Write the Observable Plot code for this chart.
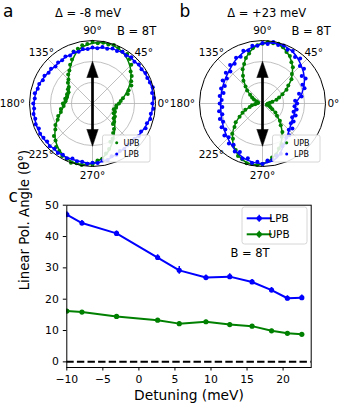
<!DOCTYPE html>
<html><head><meta charset="utf-8">
<script src="https://cdn.jsdelivr.net/npm/d3@7"></script>
<script src="https://cdn.jsdelivr.net/npm/@observablehq/plot@0.6"></script>
<style>
html,body{margin:0;padding:0;background:#fff;}
#fig{position:relative;width:339px;height:414px;overflow:hidden;font-family:"DejaVu Sans",sans-serif;color:#000;}
#fig > svg{position:absolute;}
</style></head><body><div id="fig"></div>
<script>
// ---------- Panel a / b : polar intensity (normalised radius), dots every 5 deg, fits every 15 deg ----------
const dotStep = 5, fitStep = 15;
const aUPB = [.42,.45,.49,.58,.61,.68,.71,.76,.79,.87,.92,.96,
              .95,.97,.99,.97,.98,.96,.98,.95,.94,.90,.88,.77,
              .71,.64,.60,.54,.51,.46,.45,.42,.43,.42,.44,.43,
              .47,.46,.51,.52,.58,.61,.68,.72,.80,.83,.90,.92,
              .96,.97,1.0,.98,.99,.96,.97,.91,.89,.82,.77,.67,
              .64,.57,.53,.46,.45,.41,.41,.37,.38,.35,.38,.38];
const aLPB = [.95,.98,.96,.99,.97,.96,.97,.95,.96,.94,.96,.93,
              .95,.92,.93,.90,.91,.88,.89,.87,.88,.85,.87,.84,
              .86,.84,.85,.83,.86,.85,.88,.87,.90,.90,.93,.92,
              .94,.93,.95,.94,.96,.94,.96,.95,.94,.96,.94,.96,
              .94,.96,.93,.95,.94,.96,.94,.95,.92,.93,.89,.90,
              .87,.88,.86,.88,.87,.90,.89,.93,.92,.95,.94,.97];
const bUPB = [.09,.12,.16,.23,.28,.35,.44,.50,.60,.66,.75,.80,
              .87,.90,.95,.98,.97,.98,.95,.93,.89,.82,.77,.69,
              .63,.54,.47,.38,.32,.24,.19,.15,.10,.08,.07,.08,
              .10,.12,.17,.21,.29,.35,.42,.52,.58,.68,.73,.81,
              .85,.92,.94,.98,.97,.98,.96,.92,.87,.84,.76,.71,
              .61,.55,.45,.39,.30,.25,.18,.14,.11,.07,.08,.08];
const bLPB = [.55,.52,.63,.60,.71,.70,.79,.76,.86,.84,.93,.90,
              .96,.94,.98,.96,.99,.95,.96,.92,.93,.87,.89,.82,
              .84,.77,.80,.72,.76,.69,.73,.66,.70,.64,.69,.65,
              .68,.64,.70,.66,.72,.69,.75,.72,.79,.76,.83,.80,
              .88,.85,.93,.90,.96,.93,.96,.91,.91,.86,.85,.75,
              .73,.66,.66,.59,.62,.55,.57,.52,.56,.51,.55,.51];
const aUPBfit = [.415,.54,.695,.84,.945,.98,.955,.875,.695,.54,.43,.40,
                 .435,.52,.67,.83,.94,.985,.95,.835,.66,.50,.41,.365];
const aLPBfit = [.96,.975,.96,.95,.94,.91,.88,.86,.85,.84,.87,.91,
                 .93,.95,.96,.95,.95,.94,.95,.92,.88,.87,.90,.94];
const bUPBfit = [.09,.22,.43,.67,.86,.97,.96,.83,.62,.38,.19,.08,
                 .09,.22,.43,.67,.86,.97,.96,.83,.62,.38,.19,.08];
const bLPBfit = [.53,.65,.77,.865,.95,.98,.95,.89,.82,.745,.70,.675,
                 .665,.68,.72,.78,.86,.93,.95,.89,.71,.60,.54,.53];
const angleTicks = [0,45,90,135,180,225,270];
const spokeAngles = [0,45,90,135,180,225,270,315];
const ringRadii = [1/3, 2/3];
const polarSeries = ["UPB","LPB"];

// ---------- Panel c ----------
const detuning = [-10, -7.9, -3.1, 2.6, 5.6, 9.3, 12.6, 15.7, 18.4, 20.6, 22.6];
const lpbAngle = [47.0, 44.3, 41.0, 33.3, 29.2, 26.9, 27.2, 25.5, 22.9, 20.3, 20.5];
const upbAngle = [16.2, 15.9, 14.5, 13.3, 12.2, 12.8, 11.9, 11.4, 9.9, 9.1, 8.8];
const lpbErr   = [0.9, 0.8, 0.8, 0.9, 1.2, 0.8, 0.9, 0.8, 0.8, 0.8, 0.8];
const upbErr   = [0.5, 0.5, 0.5, 0.5, 0.6, 0.5, 0.5, 0.5, 0.5, 0.5, 0.5];
const xTicks = [-10, -5, 0, 5, 10, 15, 20];
const yTicks = [0, 10, 20, 30, 40, 50];

const FONT = "DejaVu Sans";
const BLUE = "#0000ff", GREEN = "#008000";
const deg = Math.PI / 180;
const fig = document.getElementById("fig");

function toXY(rs, step) {
  return rs.map((r, i) => ({x: r * Math.cos(i * step * deg), y: r * Math.sin(i * step * deg)}));
}

function polarPanel(up, lp, upFit, lpFit, left) {
  const R = 63, cx = 92, cy = 103;
  const lab = (a, rr) => ({a, t: a + "°", x: rr * Math.cos(a * deg), y: rr * Math.sin(a * deg)});
  const midLabels = angleTicks.filter(a => a !== 0 && a !== 180).map(a => lab(a, 1.15));
  const svg = Plot.plot({
    width: 170, height: 192, margin: 0,
    x: {domain: [-1, 1], range: [cx - R, cx + R], axis: null},
    y: {domain: [-1, 1], range: [cy + R, cy - R], axis: null},
    style: {fontFamily: FONT, fontSize: "10.5px", background: "transparent", overflow: "visible"},
    marks: [
      ...ringRadii.map(g => Plot.dot([0], {x: 0, y: 0, r: g * R, fill: "none", stroke: "#b0b0b0", strokeWidth: 0.8})),
      Plot.link(spokeAngles, {x1: 0, y1: 0, x2: d => Math.cos(d * deg), y2: d => Math.sin(d * deg), stroke: "#b0b0b0", strokeWidth: 0.8}),
      Plot.line(toXY(upFit, fitStep), {x: "x", y: "y", curve: "catmull-rom-closed", stroke: GREEN, strokeWidth: 1.5}),
      Plot.dot(toXY(up, dotStep), {x: "x", y: "y", r: 2, fill: GREEN}),
      Plot.line(toXY(lpFit, fitStep), {x: "x", y: "y", curve: "catmull-rom-closed", stroke: BLUE, strokeWidth: 1.5}),
      Plot.dot(toXY(lp, dotStep), {x: "x", y: "y", r: 2, fill: BLUE}),
      Plot.dot([0], {x: 0, y: 0, r: R, fill: "none", stroke: "black", strokeWidth: 1}),
      // double-headed arrow
      Plot.link([0], {x1: 0, y1: -0.45, x2: 0, y2: 0.45, stroke: "black", strokeWidth: 2.7}),
      Plot.line([{h:1,x:-0.09,y:0.41},{h:1,x:0,y:0.67},{h:1,x:0.09,y:0.41},{h:2,x:-0.09,y:-0.41},{h:2,x:0,y:-0.68},{h:2,x:0.09,y:-0.41}],
        {x: "x", y: "y", z: "h", fill: "black", stroke: "black", strokeWidth: 0.5}),
      Plot.text(midLabels, {x: "x", y: "y", text: "t", fontSize: 10.5}),
      Plot.text([lab(0, 1.03)], {x: "x", y: "y", text: "t", textAnchor: "start", fontSize: 10.5}),
      Plot.text([lab(180, 1.07)], {x: "x", y: "y", text: "t", textAnchor: "end", fontSize: 10.5})
    ]
  });
  const g = d3.select(svg).append("g").attr("font-family", FONT);
  g.append("rect").attr("x", 102.5).attr("y", 135).attr("width", 47.5).attr("height", 27)
    .attr("rx", 2).attr("fill", "white").attr("fill-opacity", 0.85).attr("stroke", "#cccccc").attr("stroke-width", 0.8);
  polarSeries.forEach((s, i) => {
    const yy = 142.7 + i * 11.3;
    g.append("circle").attr("cx", 116.7).attr("cy", yy).attr("r", 1.5).attr("fill", i === 0 ? GREEN : BLUE);
    g.append("text").attr("x", 131.5).attr("y", yy).attr("dy", "0.35em").attr("font-size", 8).text(s);
  });
  svg.style.left = left + "px";
  svg.style.top = "0px";
  fig.appendChild(svg);
}

polarPanel(aUPB, aLPB, aUPBfit, aLPBfit, 0);
polarPanel(bUPB, bLPB, bUPBfit, bLPBfit, 170);

// ---------- Panel c ----------
const lpbRows = detuning.map((d, i) => ({d, v: lpbAngle[i], e: lpbErr[i]}));
const upbRows = detuning.map((d, i) => ({d, v: upbAngle[i], e: upbErr[i]}));
function seriesMarks(rows, color) {
  return [
    Plot.line(rows, {x: "d", y: "v", stroke: color, strokeWidth: 2, clip: true}),
    Plot.ruleX(rows, {x: "d", y1: r => r.v - r.e, y2: r => r.v + r.e, stroke: color, strokeWidth: 1.5, clip: true}),
    Plot.dot(rows, {x: "d", y: "v", r: 2.6, fill: color, clip: true})
  ];
}
const c = Plot.plot({
  width: 339, height: 218,
  marginLeft: 66.3, marginRight: 28.3, marginTop: 8.7, marginBottom: 47,
  x: {domain: [-10, 23.9]},
  y: {domain: [-1.8, 50]},
  style: {fontFamily: FONT, fontSize: "10.8px", background: "transparent", overflow: "visible"},
  marks: [
    Plot.ruleY([0], {stroke: "black", strokeDasharray: "7.4,3.2", strokeWidth: 2}),
    ...seriesMarks(lpbRows, BLUE),
    ...seriesMarks(upbRows, GREEN),
    Plot.frame({stroke: "black", strokeWidth: 1}),
    Plot.axisX({ticks: xTicks, tickSize: 3.5, tickPadding: 4, label: null, fontSize: 10.8}),
    Plot.axisY({ticks: yTicks, tickSize: 3.5, tickPadding: 4.5, label: null, fontSize: 10.8}),
    Plot.text(["Detuning (meV)"], {frameAnchor: "bottom", dy: 32, fontSize: 13.8}),
    Plot.text(["Linear Pol. Angle (θ°)"], {frameAnchor: "left", dx: -42, dy: 4, rotate: -90, fontSize: 13.3})
  ]
});
const lg = d3.select(c).append("g").attr("font-family", FONT);
lg.append("rect").attr("x", 242).attr("y", 11).attr("width", 65).attr("height", 37).attr("rx", 2.5)
  .attr("fill", "white").attr("fill-opacity", 0.85).attr("stroke", "#cccccc").attr("stroke-width", 0.8);
[["LPB", BLUE, 22.3], ["UPB", GREEN, 38.3]].forEach(([name, col, yy]) => {
  lg.append("line").attr("x1", 246.7).attr("x2", 271.7).attr("y1", yy).attr("y2", yy).attr("stroke", col).attr("stroke-width", 2);
  lg.append("line").attr("x1", 259.2).attr("x2", 259.2).attr("y1", yy - 3.5).attr("y2", yy + 3.5).attr("stroke", col).attr("stroke-width", 1.5);
  lg.append("circle").attr("cx", 259.2).attr("cy", yy).attr("r", 2.6).attr("fill", col);
  lg.append("text").attr("x", 279).attr("y", yy).attr("dy", "0.35em").attr("font-size", 10.5).text(name);
});
lg.append("text").attr("x", 250).attr("y", 61).attr("font-size", 11.5).text("B = 8T");
c.style.left = "0px";
c.style.top = "196px";
fig.appendChild(c);

// ---------- Overlay annotations ----------
const ov = d3.select(fig).append("svg").attr("width", 339).attr("height", 414)
  .style("left", "0px").style("top", "0px").style("pointer-events", "none").attr("font-family", FONT);
const notes = [
  {t: "a", x: 3, y: 16.7, s: 17, a: "start"},
  {t: "b", x: 179.5, y: 16.7, s: 17, a: "start"},
  {t: "c", x: 8.5, y: 202, s: 17, a: "start"},
  {t: "Δ = -8 meV", x: 88, y: 17.3, s: 11.5, a: "middle"},
  {t: "Δ = +23 meV", x: 266.7, y: 17.3, s: 11.5, a: "middle"},
  {t: "B = 8T", x: 117, y: 35, s: 11.5, a: "start"},
  {t: "B = 8T", x: 291.5, y: 35, s: 11.5, a: "start"}
];
notes.forEach(n => ov.append("text").attr("x", n.x).attr("y", n.y).attr("font-size", n.s)
  .attr("text-anchor", n.a).text(n.t));
</script></body></html>
